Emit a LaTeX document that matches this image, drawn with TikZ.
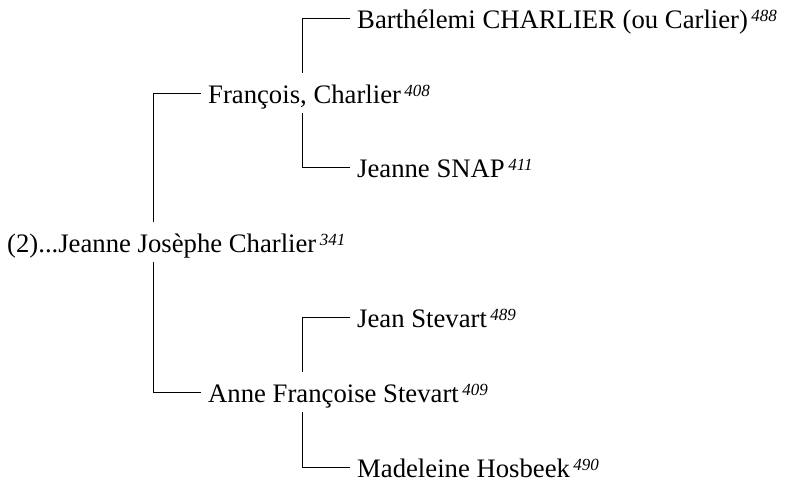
\documentclass[tikz,border=0pt]{standalone}
\usepackage{fontspec}
\setmainfont{Liberation Serif}

\newcommand{\gen}[1]{\hspace{3.5pt}\raisebox{7pt}{\fontsize{17}{17}\selectfont\itshape #1}}

\tikzset{
  person/.style={anchor=west,inner xsep=7pt,inner ysep=3.25pt,
    text height=27pt,text depth=6.5pt,font=\fontsize{26.7}{30}\selectfont},
  link/.style={line width=0.8pt}
}

\begin{document}
\begin{tikzpicture}[x=1pt,y=-1pt]
\useasboundingbox (0,0) rectangle (785,486);

% Subject
\node[person] (root) at (0,242) {(2)...Jeanne Josèphe Charlier\gen{341}};

% Parents
\node[person] (fran) at (201,93) {François, Charlier\gen{408}};
\node[person] (anne) at (201,392) {Anne Françoise Stevart\gen{409}};

% Grandparents
\node[person] (barth) at (350,18) {Barthélemi CHARLIER (ou Carlier)\gen{488}};
\node[person] (snap) at (350,167) {Jeanne SNAP\gen{411}};
\node[person] (jean) at (350,317) {Jean Stevart\gen{489}};
\node[person] (made) at (350,467) {Madeleine Hosbeek\gen{490}};

% Branch columns
\coordinate (t0) at (153,0);
\coordinate (t1) at (302,0);

\draw[link] (root.north -| t0) |- (fran.west);
\draw[link] (root.south -| t0) |- (anne.west);

\draw[link] (fran.north -| t1) |- (barth.west);
\draw[link] (fran.south -| t1) |- (snap.west);
\draw[link] (anne.north -| t1) |- (jean.west);
\draw[link] (anne.south -| t1) |- (made.west);

\end{tikzpicture}
\end{document}
